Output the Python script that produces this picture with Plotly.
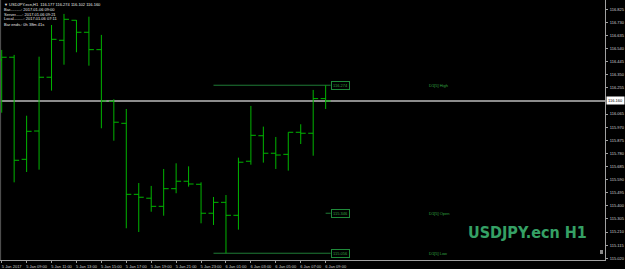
import plotly.graph_objects as go
import pandas as pd

times = ["2017-01-05 07:00", "2017-01-05 08:00", "2017-01-05 09:00", "2017-01-05 10:00",
         "2017-01-05 11:00", "2017-01-05 12:00", "2017-01-05 13:00", "2017-01-05 14:00",
         "2017-01-05 15:00", "2017-01-05 16:00", "2017-01-05 17:00", "2017-01-05 18:00",
         "2017-01-05 19:00", "2017-01-05 20:00", "2017-01-05 21:00", "2017-01-05 22:00",
         "2017-01-05 23:00", "2017-01-06 00:00", "2017-01-06 01:00", "2017-01-06 02:00",
         "2017-01-06 03:00", "2017-01-06 04:00", "2017-01-06 05:00", "2017-01-06 06:00",
         "2017-01-06 07:00", "2017-01-06 08:00", "2017-01-06 09:00"]
opens = [116.457, 116.477, 115.737, 115.942, 116.332, 116.600, 116.745, 116.658,
         116.532, 116.158, 115.998, 115.483, 115.455, 115.396, 115.524, 115.578,
         115.556, 115.346, 115.425, 115.331, 115.723, 115.908, 115.781, 115.773,
         115.933, 115.926, 116.177]
highs = [116.530, 116.494, 116.053, 116.481, 116.711, 116.791, 116.747, 116.771,
         116.639, 116.172, 116.102, 115.565, 115.544, 115.667, 115.708, 115.686,
         115.570, 115.464, 115.478, 115.749, 116.124, 115.974, 115.899, 115.933,
         115.991, 116.240, 116.274]
lows = [116.075, 115.570, 115.645, 115.662, 116.235, 116.423, 116.513, 116.416,
        115.962, 115.872, 115.237, 115.210, 115.357, 115.328, 115.491, 115.539,
        115.273, 115.261, 115.056, 115.227, 115.698, 115.713, 115.667, 115.655,
        115.848, 115.763, 116.102]
closes = [116.477, 115.730, 115.940, 116.332, 116.607, 116.752, 116.658, 116.532,
          116.160, 116.006, 115.483, 115.462, 115.396, 115.524, 115.578, 115.558,
          115.346, 115.425, 115.331, 115.716, 115.911, 115.781, 115.768, 115.933,
          115.926, 116.177, 116.160]

x_tick_times = ["2017-01-05 07:00", "2017-01-05 09:00", "2017-01-05 11:00", "2017-01-05 13:00",
                "2017-01-05 15:00", "2017-01-05 17:00", "2017-01-05 19:00", "2017-01-05 21:00",
                "2017-01-05 23:00", "2017-01-06 01:00", "2017-01-06 03:00", "2017-01-06 05:00",
                "2017-01-06 07:00", "2017-01-06 09:00"]
x_tick_labels = ["5 Jan 2017", "5 Jan 09:00", "5 Jan 11:00", "5 Jan 13:00", "5 Jan 15:00",
                 "5 Jan 17:00", "5 Jan 19:00", "5 Jan 21:00", "5 Jan 23:00", "6 Jan 01:00",
                 "6 Jan 03:00", "6 Jan 05:00", "6 Jan 07:00", "6 Jan 09:00"]
y_tick_values = [116.825, 116.730, 116.635, 116.540, 116.445, 116.350, 116.255,
                 116.065, 115.970, 115.875, 115.780, 115.685, 115.590, 115.495,
                 115.400, 115.305, 115.210, 115.115, 115.020]

current_price = 116.160
d1_names = ["D1[5] High", "D1[5] Open", "D1[5] Low"]
d1_values = [116.274, 115.346, 115.056]
day_start = "2017-01-06 00:00"

info_lines = ["\u25bc USDJPY.ecn,H1  116.177 116.274 116.102 116.160",
              "Bar..........: 2017.01.06 09:00",
              "Server......: 2017.01.06 09:21",
              "Local.........: 2017.01.06 07:11",
              "Bar ends.: 0h 38m 41s"]

GREEN = "#00b400"
FONT = "Liberation Sans"

fig = go.Figure()
fig.add_trace(go.Ohlc(
    x=pd.to_datetime(times), open=opens, high=highs, low=lows, close=closes,
    increasing=dict(line=dict(color=GREEN, width=1)),
    decreasing=dict(line=dict(color=GREEN, width=1)),
    tickwidth=0.4, hoverinfo="skip", showlegend=False))

t0 = pd.Timestamp(times[0])
x_start = t0 - pd.Timedelta(hours=0.136)
x_end = t0 + pd.Timedelta(hours=48.42)
last_t = pd.Timestamp(times[-1])
label_x = last_t + pd.Timedelta(hours=0.4)
name_x = t0 + pd.Timedelta(hours=34.1)

shapes = []
shapes.append(dict(type="line", xref="paper", x0=0, x1=1.0, yref="y",
                   y0=current_price, y1=current_price,
                   line=dict(color="#8c8c8c", width=2), layer="below"))
shapes.append(dict(type="line", xref="paper", x0=0.001, x1=0.001, yref="paper", y0=0, y1=1,
                   line=dict(color="#555555", width=1), layer="below"))
annotations = []
for name, val in zip(d1_names, d1_values):
    start = day_start if name != "D1[5] Open" else last_t
    shapes.append(dict(type="line", xref="x", x0=start, x1=label_x, yref="y",
                       y0=val, y1=val, line=dict(color="#1f7a35", width=1), layer="below"))
    annotations.append(dict(x=label_x, y=val, xref="x", yref="y", xanchor="left",
                            yanchor="middle", text=f"{val:.3f}", showarrow=False,
                            font=dict(family=FONT, size=4, color="#30a040"),
                            bgcolor="#000000", bordercolor="#1f8a3a", borderwidth=1,
                            borderpad=1))
    annotations.append(dict(x=name_x, y=val, xref="x", yref="y", xanchor="left",
                            yanchor="middle", text=name, showarrow=False,
                            font=dict(family=FONT, size=4, color="#30a040")))

annotations.append(dict(x=1.0, y=current_price, xref="paper", yref="y", xanchor="left",
                        yanchor="middle", text=f"{current_price:.3f}", showarrow=False,
                        font=dict(family=FONT, size=4, color="#000000"),
                        bgcolor="#ffffff", borderpad=1, xshift=1))

info_y = [4.5, 9.7, 14.3, 19.0, 24.0]
for txt, ypx in zip(info_lines, info_y):
    annotations.append(dict(x=0.004, y=1 - ypx / 260, xref="paper", yref="paper",
                            xanchor="left", yanchor="middle", text=txt, showarrow=False,
                            font=dict(family=FONT, size=4, color="#e6e6e6")))

annotations.append(dict(x=529 / 607, y=1 - 232 / 260, xref="paper", yref="paper",
                        xanchor="center", yanchor="middle", text="<b>USDJPY.ecn H1</b>",
                        showarrow=False,
                        font=dict(family="Liberation Sans Narrow, DejaVu Sans Condensed, Liberation Sans",
                                  size=16, color="#35a065")))

shapes.append(dict(type="rect", xref="paper", yref="paper", x0=602 / 607, x1=605 / 607,
                   y0=1 - 254 / 260, y1=1 - 250 / 260, fillcolor="#888888",
                   line=dict(width=0)))

fig.update_layout(
    width=625, height=269, margin=dict(l=0, r=18, t=0, b=9),
    paper_bgcolor="#000000", plot_bgcolor="#000000",
    shapes=shapes, annotations=annotations,
    font=dict(family=FONT, size=4, color="#d0d0d0"),
    xaxis=dict(range=[x_start, x_end], rangeslider=dict(visible=False),
               showgrid=False, zeroline=False, showline=True, linecolor="#a0a0a0",
               linewidth=1, ticks="outside", ticklen=2, tickcolor="#a0a0a0",
               tickvals=pd.to_datetime(x_tick_times), ticktext=x_tick_labels,
               tickfont=dict(family=FONT, size=4, color="#d0d0d0"),
               ticklabelshift=10, ticklabelstandoff=0),
    yaxis=dict(range=[115.007, 116.892], side="right", showgrid=False, zeroline=False,
               showline=True, linecolor="#a0a0a0", linewidth=1, ticks="outside",
               ticklen=2, tickcolor="#a0a0a0", tickvals=y_tick_values,
               ticktext=[f"{v:.3f}" for v in y_tick_values],
               tickfont=dict(family=FONT, size=4, color="#d0d0d0"),
               ticklabelstandoff=1),
)

fig.write_html("out.html")
